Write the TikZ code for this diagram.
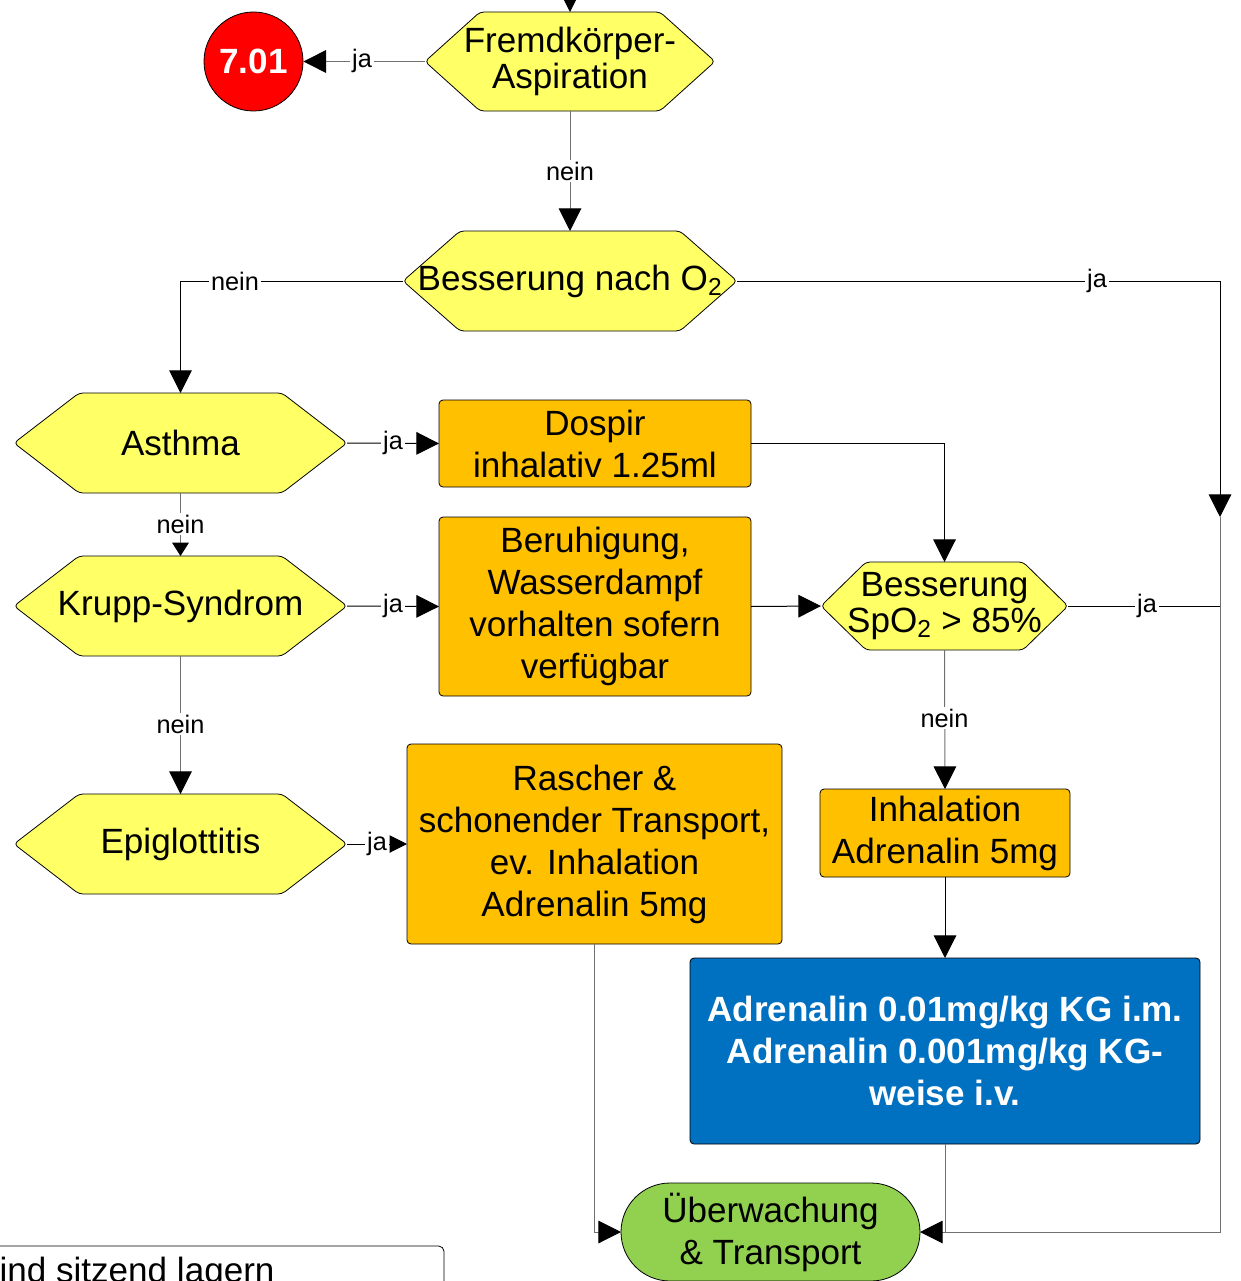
\documentclass[tikz,border=0pt]{standalone}
\usepackage{fontspec}
\setmainfont{Liberation Sans}
\usetikzlibrary{arrows.meta}

\pgfdeclarelayer{bg}
\pgfsetlayers{bg,main}

\definecolor{hexyellow}{HTML}{FFFF66}
\definecolor{boxorange}{HTML}{FFC000}
\definecolor{boxblue}{HTML}{0070C0}
\definecolor{termgreen}{HTML}{92D050}
\definecolor{refred}{HTML}{FF0000}
\definecolor{linegray}{HTML}{707070}

% hexagonal decision outline around a named node: #1 node, #2 side indent
\newcommand{\hexoutline}[2]{%
  \filldraw[hexshape] (#1.west) -- ([xshift=#2]#1.north west)
    -- ([xshift=-#2]#1.north east) -- (#1.east)
    -- ([xshift=-#2]#1.south east) -- ([xshift=#2]#1.south west) -- cycle;}

\begin{document}
\begin{tikzpicture}[x=0.75pt,y=-0.75pt,
  every node/.style={font=\fontsize{26.3}{31.5}\selectfont, inner sep=0pt},
  hexnode/.style={minimum width=249.75pt, minimum height=75pt, outer sep=0pt,
    align=center, font=\fontsize{26.3}{26.5}\selectfont},
  hexshape/.style={fill=hexyellow, draw=black, line width=0.6pt, rounded corners=3pt},
  actbox/.style={draw=black, line width=0.6pt, fill=boxorange, rounded corners=3pt,
    align=center, outer sep=0pt},
  conn/.style={draw=black, line width=0.75pt},
  conng/.style={draw=linegray, line width=0.75pt},
  bigarrow/.style={-{Triangle[length=17pt,width=17pt,color=black,fill=black]}},
  midarrow/.style={-{Triangle[length=13pt,width=13pt,color=black,fill=black]}},
  smallarrow/.style={-{Triangle[length=10pt,width=12.5pt,color=black,fill=black]}},
  lab/.style={fill=white, inner xsep=1.5pt, inner ysep=1pt, font=\fontsize{19}{22}\selectfont}]

\useasboundingbox (0,0) rectangle (1240,1281);
\clip (0,0) rectangle (1240,1281);

% ---------- decisions ----------
\node[hexnode, minimum width=217.5pt, minimum height=74.25pt] (fremd) at (570,61.5) {Fremdkörper-\\Aspiration};
\node[hexnode, minimum width=250.5pt] (o2) at (570,281) {Besserung nach O\textsubscript{2}};
\node[hexnode] (asthma) at (180.5,443) {Asthma};
\node[hexnode] (krupp) at (180.5,606) {Krupp-Syndrom};
\node[hexnode] (epi) at (180.5,844) {Epiglottitis};
\node[hexnode, minimum width=185.25pt, minimum height=66pt] (spo2) at (944.5,606) {Besserung\\SpO\textsubscript{2} > 85\%};

% ---------- reference circle ----------
\node[circle, fill=refred, draw=black, line width=0.6pt, minimum size=74.25pt,
  text=white, font=\fontsize{26.3}{30}\selectfont\bfseries] (c701) at (253.5,61.5) {7.01};

% ---------- actions ----------
\node[actbox, minimum width=234pt, minimum height=65.25pt] (dospir) at (595,443.5) {Dospir\\inhalativ 1.25ml};
\node[actbox, minimum width=234pt, minimum height=134.25pt] (beru) at (595,606.5) {Beruhigung,\\Wasserdampf\\vorhalten sofern\\verfügbar};
\node[actbox, minimum width=281.25pt, minimum height=150pt] (rascher) at (594.5,844) {Rascher \&\\schonender Transport,\\ev. Inhalation\\Adrenalin 5mg};
\node[actbox, minimum width=187.5pt, minimum height=66pt] (inhal) at (945,833) {Inhalation\\Adrenalin 5mg};
\node[draw=black, line width=0.6pt, fill=boxblue, rounded corners=3pt, align=center, outer sep=0pt,
  text=white, font=\fontsize{26.3}{31.5}\selectfont\bfseries,
  minimum width=382.5pt, minimum height=139.5pt] (adren) at (945,1051)
  {Adrenalin 0.01mg/kg KG i.m.\\Adrenalin 0.001mg/kg KG-\\weise i.v.};

% ---------- terminal ----------
\node[draw=black, line width=0.6pt, fill=termgreen, rounded corners=36.75pt, outer sep=0pt,
  minimum width=224.25pt, minimum height=73.5pt, align=center] (ueber) at (770.5,1232)
  {Überwachung\\\& Transport};

% ---------- note box ----------
\draw[line width=0.6pt, rounded corners=4pt] (-20,1400) -- (-20,1246) -- (444,1246) -- (444,1400);
\node[anchor=base west] (note) at (-24,1282) {Kind sitzend lagern};

% ---------- hexagon outlines ----------
\begin{pgfonlayer}{bg}
  \hexoutline{fremd}{41.25pt}
  \hexoutline{o2}{42.75pt}
  \hexoutline{asthma}{48.75pt}
  \hexoutline{krupp}{48.75pt}
  \hexoutline{epi}{48.75pt}
  \hexoutline{spo2}{33.75pt}
\end{pgfonlayer}

% ---------- route points ----------
\coordinate (entry) at (570,-20);
\coordinate (rtop) at (1220,281);
\coordinate (rmid) at (1220,517);
\coordinate (rspo) at (1220,606);
\coordinate (rbot) at (1220,1232);
\coordinate (bjoin) at (945,1232);

% ---------- connectors ----------
\draw[conn, bigarrow] (entry) -- (fremd.north);
\draw[conng, bigarrow] (fremd.west) -- (c701.east);
\draw[conng, bigarrow] (fremd.south) -- (o2.north);
\draw[conn, bigarrow] (o2.west) -| (asthma.north);
\draw[conn, bigarrow] (o2.east) -- (rtop) -- (rmid);
\draw[conng, bigarrow] (rmid) -- (rbot) -- (ueber.east);
\draw[conn, bigarrow] (asthma.east) -- (dospir.west);
\draw[conng, smallarrow] (asthma.south) -- (krupp.north);
\draw[conn, bigarrow] (dospir.east) -| (spo2.north);
\draw[conn, bigarrow] (krupp.east) -- (beru.west);
\draw[conng, bigarrow] (krupp.south) -- (epi.north);
\draw[conn, bigarrow] (beru.east) -- (spo2.west);
\draw[conn] (spo2.east) -- (rspo);
\draw[conng, bigarrow] (spo2.south) -- (inhal.north);
\draw[conn, bigarrow] (inhal.south) -- (adren.north);
\draw[conn, midarrow] (epi.east) -- (rascher.west);
\draw[conng, bigarrow] (rascher.south) |- (ueber.west);
\draw[conng] (adren.south) -- (bjoin);

% ---------- connector labels ----------
\node[lab] (lja1) at (362,61) {ja};
\node[lab] (lnein1) at (570,171) {nein};
\node[lab] (lnein2) at (235,281) {nein};
\node[lab] (lja2) at (1097,281) {ja};
\node[lab] (lja3) at (393,443) {ja};
\node[lab] (lnein3) at (180.5,524) {nein};
\node[lab] (lja4) at (393,606) {ja};
\node[lab] (lja5) at (1147,606) {ja};
\node[lab] (lnein4) at (180.5,724) {nein};
\node[lab] (lnein5) at (944.5,718) {nein};
\node[lab] (lja6) at (377,844) {ja};

\end{tikzpicture}
\end{document}
